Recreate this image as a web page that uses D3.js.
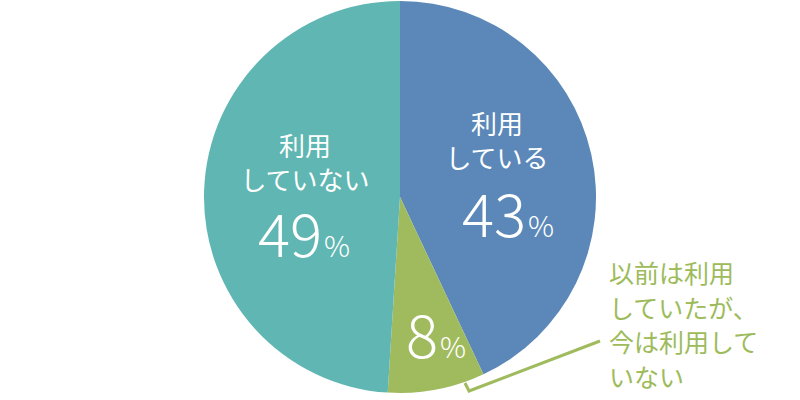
<!DOCTYPE html>
<html><head><meta charset="utf-8">
<script src="https://cdn.jsdelivr.net/npm/d3@7"></script>
<style>body{margin:0;background:#fff}svg{display:block}</style>
</head><body>
<svg id="c" width="800" height="400"></svg>
<script>
const categories = ["利用している", "以前は利用していたが、今は利用していない", "利用していない"];
const values = [43, 8, 49];
const colors = ["#5b88b8", "#a0bb5e", "#5fb6b2"];
const labelLines = [["利用", "している"], [], ["利用", "していない"]];
const noteLines = ["以前は利用", "していたが、", "今は利用して", "いない"];

const svg = d3.select("#c");
const cx = 400, cy = 197, R = 196;
const g = svg.append("g").attr("transform", `translate(${cx},${cy})`);
const pie = d3.pie().sort(null).value(d => d)(values);
const arc = d3.arc().innerRadius(0).outerRadius(R);
g.selectAll("path").data(pie).enter().append("path")
  .attr("d", arc).attr("fill", (d, i) => colors[i]);

const font = "'Noto Sans CJK JP', 'Noto Sans', sans-serif";
const lab = [
  {x: 497, y: 134, px: 508, py: 237},
  {x: 436, y: 0, px: 436, py: 358},
  {x: 305, y: 156, px: 304, py: 257}
];
pie.forEach((d, i) => {
  const p = lab[i];
  labelLines[i].forEach((t, j) => {
    svg.append("text").attr("x", p.x).attr("y", p.y + j * 34)
      .attr("text-anchor", "middle").attr("fill", "#fff")
      .attr("font-family", font).attr("font-size", 26).text(t);
  });
  const t = svg.append("text").attr("x", p.px).attr("y", p.py)
    .attr("text-anchor", "middle").attr("fill", "#fff")
    .attr("font-family", font).attr("font-weight", 300);
  t.append("tspan").attr("font-size", 60).text(values[i]);
  t.append("tspan").attr("font-size", 29).attr("dx", 2).text("%");
});

// leader line from the small slice to its note
svg.append("polyline")
  .attr("points", "465,383 469,391 600,341")
  .attr("fill", "none").attr("stroke", "#a0bb5e").attr("stroke-width", 3);

noteLines.forEach((t, j) => {
  svg.append("text").attr("x", 609).attr("y", 283 + j * 34.5)
    .attr("fill", "#9dbb5a").attr("font-family", font).attr("font-size", 25).text(t);
});
</script>
</body></html>
